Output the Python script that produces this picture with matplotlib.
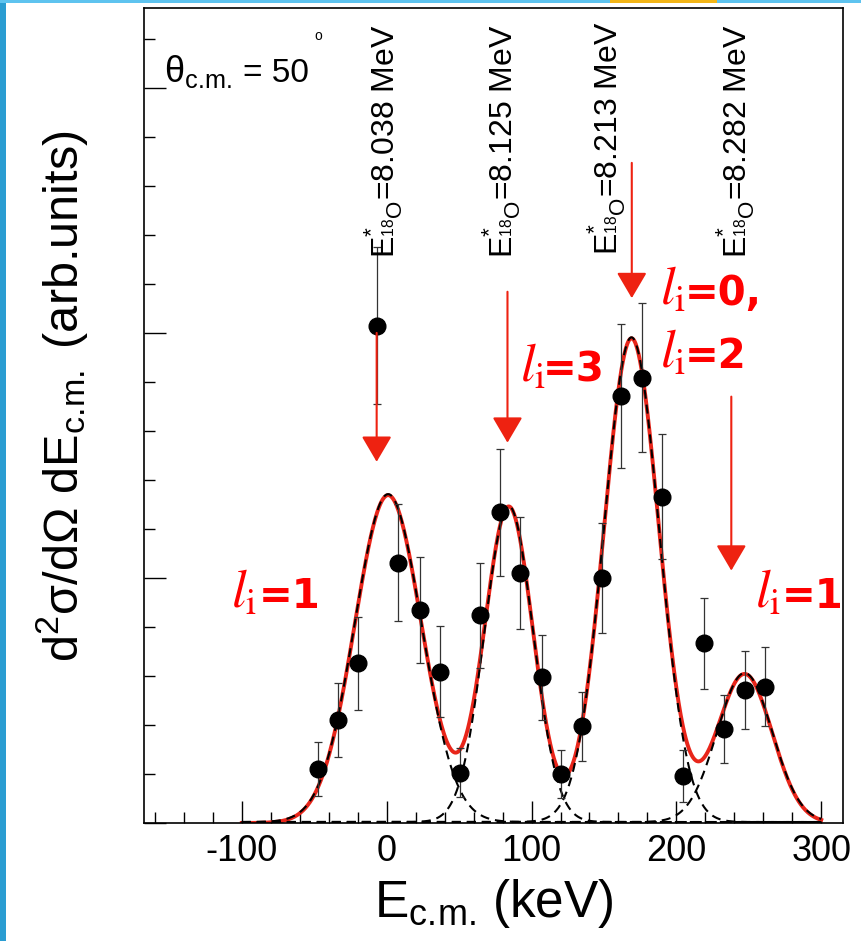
import numpy as np
import matplotlib
matplotlib.use('Agg')
import matplotlib.pyplot as plt
from matplotlib.ticker import MultipleLocator, NullFormatter
from matplotlib.patches import Rectangle

plt.rcParams['font.family'] = ['Liberation Sans', 'DejaVu Sans']
plt.rcParams['mathtext.fontset'] = 'custom'
plt.rcParams['mathtext.rm'] = 'Liberation Sans'
plt.rcParams['mathtext.it'] = 'Liberation Sans:italic'
plt.rcParams['mathtext.bf'] = 'Liberation Sans:bold'
plt.rcParams['axes.unicode_minus'] = False
plt.rcParams['lines.scale_dashes'] = False

# measured spectrum (keV, arb. units)
e_cm = [-47.4, -33.4, -19.6, -6.9, 8.0, 22.7, 36.6, 50.5, 64.3, 78.1, 92.3, 107.0,
        120.6, 134.7, 148.8, 162.1, 176.6, 190.3, 204.8, 219.2, 233.2, 247.1, 261.2]
counts = [1.10, 2.10, 3.26, 10.15, 5.31, 4.35, 3.09, 1.03, 4.24, 6.34, 5.10, 2.97,
          0.99, 1.97, 5.00, 8.72, 9.09, 6.66, 0.96, 3.67, 1.92, 2.71, 2.78]
errors = [0.55, 0.75, 0.95, 1.61, 1.19, 1.08, 0.92, 0.50, 1.07, 1.29, 1.15, 0.87,
          0.49, 0.70, 1.13, 1.47, 1.52, 1.27, 0.53, 0.93, 0.70, 0.79, 0.81]

# gaussian fit components
peak_pos = [1.0, 84.3, 169.0, 247.1]
peak_amp = [6.69, 6.45, 9.89, 3.04]
peak_sigma = [23.0, 16.7, 19.0, 19.0]

# excited states of 18O
state_labels = ['8.038', '8.125', '8.213', '8.282']
label_x = [5.7, 87.1, 159.5, 248.5]
label_y = [11.53, 11.53, 11.59, 11.53]

arrow_x = [-6.9, 83.4, 169.2, 237.9]
arrow_top = [10.0, 10.84, 13.47, 8.70]
arrow_tip = [7.37, 7.76, 10.71, 5.15]

# orbital angular momentum labels
l_texts = ['=1', '=3', '=0,', '=2', '=1']
l_x = [-107.5, 92.0, 188.5, 188.5, 254.2]
l_eq_x = [-88.5, 108.0, 205.5, 205.5, 272.5]
l_y = [4.39, 9.0, 10.57, 9.29, 4.39]

cm = r'\mathrm{c.\!m.}'

fig = plt.figure(figsize=(8.61, 9.41), dpi=100)
ax = fig.add_axes([144/861, 1-823/941, 699/861, 815/941])

# slide background bits
fig.add_artist(Rectangle((0, 0), 6/861, 1, transform=fig.transFigure, color='#2a9dd2', lw=0))
fig.add_artist(Rectangle((0, 1-3/941), 1, 3/941, transform=fig.transFigure, color='#5ec3ef', lw=0))
fig.add_artist(Rectangle((610/861, 1-3/941), 107/861, 3/941, transform=fig.transFigure, color='#f2b517', lw=0))

x_fit = np.linspace(-100, 300, 801)
comps = [a*np.exp(-0.5*((x_fit-m)/s)**2) for m, a, s in zip(peak_pos, peak_amp, peak_sigma)]
total = np.sum(comps, axis=0)

ax.plot(x_fit, total, color='#e8251a', lw=2.8, zorder=2)
for c in comps:
    ax.plot(x_fit, c + 0.02, color='black', lw=1.5, dashes=(6.5, 4.3), zorder=3)

ax.errorbar(e_cm, counts, yerr=errors, fmt='o', color='black', ms=12,
            ecolor='#333333', elinewidth=0.9, capsize=3, capthick=0.9, zorder=5)

for lab, x, y in zip(state_labels, label_x, label_y):
    ax.text(x, y, r'$\mathrm{E}^{*}_{{}^{18}\mathrm{O}}$=' + lab + ' MeV', fontsize=23,
            rotation=90, rotation_mode='anchor', ha='left', va='baseline', zorder=6)

for x, top, tip in zip(arrow_x, arrow_top, arrow_tip):
    ax.annotate('', xy=(x, tip), xytext=(x, top),
                arrowprops=dict(arrowstyle='-|>,head_length=0.8,head_width=0.47',
                                mutation_scale=20, color='#ee2211', lw=1.5,
                                shrinkA=0, shrinkB=0), zorder=7)

for t, x, xe, y in zip(l_texts, l_x, l_eq_x, l_y):
    ax.text(x, y, r'$l_{\mathrm{i}}$', fontsize=38, color='red', math_fontfamily='stix',
            ha='left', va='baseline', zorder=6)
    ax.text(xe, y, t, fontsize=29, color='red', fontweight='bold', family='DejaVu Sans',
            ha='left', va='baseline', zorder=6)

ax.text(-153.5, 15.12, r'$\mathrm{\theta}_{' + cm + '}$', fontsize=26, ha='left', va='baseline')
ax.text(-99.5, 15.12, '= 50', fontsize=24, ha='left', va='baseline')
ax.text(-47.0, 16.05, 'o', fontsize=10, ha='center', va='center')

ax.set_xlim(-167.5, 315)
ax.set_ylim(0, 16.63)
ax.xaxis.set_major_locator(MultipleLocator(100))
ax.xaxis.set_minor_locator(MultipleLocator(20))
ax.yaxis.set_major_locator(MultipleLocator(5))
ax.yaxis.set_minor_locator(MultipleLocator(1))
ax.yaxis.set_major_formatter(NullFormatter())
ax.tick_params(which='both', direction='in', top=False, right=False, width=1.0)
ax.tick_params(which='major', length=16)
ax.tick_params(which='minor', length=8)
ax.tick_params(axis='x', labelsize=26, pad=8)
for s in ax.spines.values():
    s.set_linewidth(1.2)

ax.set_xlabel(r'E$_{' + cm + r'}\,$(keV)', fontsize=37, va='baseline')
ax.xaxis.set_label_coords(0.5, (823-917)/815)
ax.set_ylabel(r'd$^{2}\mathrm{\sigma}$/d$\Omega$ dE$_{' + cm + '}$ (arb.units)', fontsize=35, va='baseline')
ax.yaxis.set_label_coords((78-144)/699, (823-396)/815)

fig.savefig('out.png', dpi=100)
